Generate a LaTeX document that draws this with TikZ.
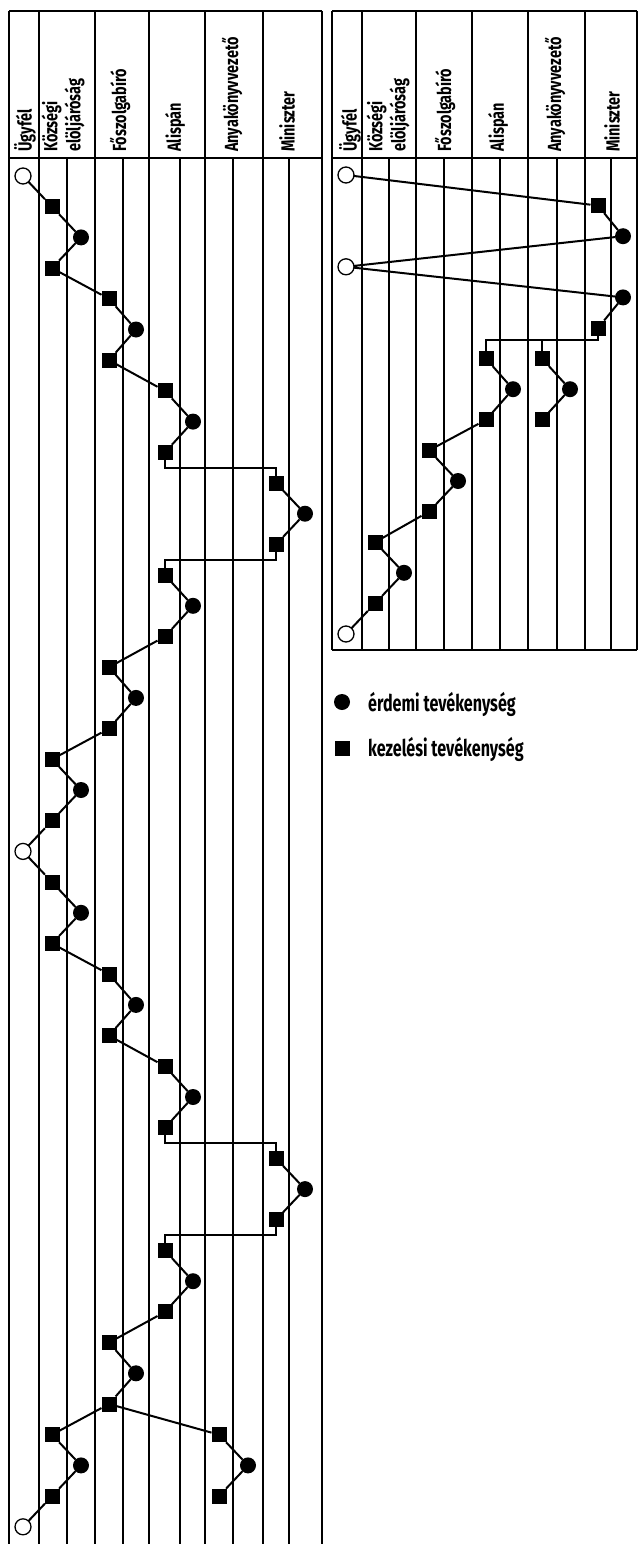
\documentclass[tikz,border=0pt]{standalone}
\usepackage{fontspec}
\newfontfamily\hdrfont[FakeStretch=0.76]{Fira Sans}
\newfontfamily\lgdfont[FakeStretch=0.7]{Fira Sans}
\usetikzlibrary{calc}
\newcommand\lmk[4]{\node[#1] (#2) at (#3,{176+30.7*(#4-1)}) {};}
\newcommand\rmk[4]{\node[#1] (#2) at (#3,{175+30.6*(#4-1)}) {};}
\tikzset{
  sq/.style={rectangle, fill=black, minimum size=15pt, inner sep=0pt, outer sep=0pt},
  dot/.style={circle, fill=black, minimum size=16pt, inner sep=0pt, outer sep=0pt},
  odot/.style={circle, draw=black, line width=1.3pt, fill=white, minimum size=16pt, inner sep=0pt, outer sep=0pt},
  con/.style={line width=2pt},
  mainln/.style={line width=2pt},
  subln/.style={line width=1.6pt},
  hdr/.style={rotate=90, anchor=west, inner sep=0pt, align=left,
    font=\hdrfont\bfseries\fontsize{19}{23}\selectfont},
  lgd/.style={anchor=west, inner sep=0pt, font=\lgdfont\bfseries\fontsize{23}{26}\selectfont},
}
\begin{document}
\begin{tikzpicture}[x=1pt,y=-1pt]
\useasboundingbox (0,0) rectangle (638,1544);
% ---------- left table grid
\draw[mainln] (9,11) -- (322,11);
\draw[mainln] (9,158) -- (322,158);
\foreach \xx in {9,39,95,149,205,263,322} \draw[mainln] (\xx,11) -- (\xx,1546);
\foreach \xx in {67,123,180,233,289} \draw[subln] (\xx,158) -- (\xx,1546);
% ---------- right table grid
\draw[mainln] (332,11) -- (637,11);
\draw[mainln] (332,158) -- (637,158);
\draw[mainln] (332,650) -- (637,650);
\foreach \xx in {332,362,416,472,528,585,637} \draw[mainln] (\xx,11) -- (\xx,650);
\foreach \xx in {389,444,500,557,611} \draw[subln] (\xx,158) -- (\xx,650);
% ---------- headers
\node[hdr] (hLU) at (25,152) {Ügyfél};
\node[hdr] (hLK) at (63,152) {Községi\\elöljáróság};
\node[hdr] (hLF) at (120,152) {Főszolgabíró};
\node[hdr] (hLA) at (175,152) {Alispán};
\node[hdr] (hLY) at (232,152) {Anyakönyvvezető};
\node[hdr] (hLM) at (287,152) {Miniszter};
\node[hdr] (hRU) at (350,152) {Ügyfél};
\node[hdr] (hRK) at (388,152) {Községi\\elöljáróság};
\node[hdr] (hRF) at (445,152) {Főszolgabíró};
\node[hdr] (hRA) at (498,152) {Alispán};
\node[hdr] (hRY) at (555,152) {Anyakönyvvezető};
\node[hdr] (hRM) at (612,152) {Miniszter};
% ---------- left markers
\lmk{odot}{L1}{23}{1}
\lmk{sq}{L2}{52}{2}
\lmk{dot}{L3}{81}{3}
\lmk{sq}{L4}{52}{4}
\lmk{sq}{L5}{109}{5}
\lmk{dot}{L6}{136}{6}
\lmk{sq}{L7}{109}{7}
\lmk{sq}{L8}{165}{8}
\lmk{dot}{L9}{193}{9}
\lmk{sq}{L10}{165}{10}
\lmk{sq}{L11}{276}{11}
\lmk{dot}{L12}{305}{12}
\lmk{sq}{L13}{276}{13}
\lmk{sq}{L14}{165}{14}
\lmk{dot}{L15}{193}{15}
\lmk{sq}{L16}{165}{16}
\lmk{sq}{L17}{109}{17}
\lmk{dot}{L18}{136}{18}
\lmk{sq}{L19}{109}{19}
\lmk{sq}{L20}{52}{20}
\lmk{dot}{L21}{81}{21}
\lmk{sq}{L22}{52}{22}
\lmk{odot}{L23}{23}{23}
\lmk{sq}{L24}{52}{24}
\lmk{dot}{L25}{81}{25}
\lmk{sq}{L26}{52}{26}
\lmk{sq}{L27}{109}{27}
\lmk{dot}{L28}{136}{28}
\lmk{sq}{L29}{109}{29}
\lmk{sq}{L30}{165}{30}
\lmk{dot}{L31}{193}{31}
\lmk{sq}{L32}{165}{32}
\lmk{sq}{L33}{276}{33}
\lmk{dot}{L34}{305}{34}
\lmk{sq}{L35}{276}{35}
\lmk{sq}{L36}{165}{36}
\lmk{dot}{L37}{193}{37}
\lmk{sq}{L38}{165}{38}
\lmk{sq}{L39}{109}{39}
\lmk{dot}{L40}{136}{40}
\lmk{sq}{L41}{109}{41}
\lmk{sq}{L42}{52}{42}
\lmk{dot}{L43}{81}{43}
\lmk{sq}{L44}{52}{44}
\lmk{odot}{L45}{23}{45}
\lmk{sq}{L42b}{219}{42}
\lmk{dot}{L43b}{248}{43}
\lmk{sq}{L44b}{219}{44}
% ---------- left connectors
\draw[con] (L1)--(L2)--(L3)--(L4)--(L5)--(L6)--(L7)--(L8)--(L9)--(L10);
\draw[con] (L10) |- ($(L10)!0.5!(L11)$) -| (L11);
\draw[con] (L11)--(L12)--(L13);
\draw[con] (L13) |- ($(L13)!0.5!(L14)$) -| (L14);
\draw[con] (L14)--(L15)--(L16)--(L17)--(L18)--(L19)--(L20)--(L21)--(L22)--(L23)--(L24)--(L25)--(L26)--(L27)--(L28)--(L29)--(L30)--(L31)--(L32);
\draw[con] (L32) |- ($(L32)!0.5!(L33)$) -| (L33);
\draw[con] (L33)--(L34)--(L35);
\draw[con] (L35) |- ($(L35)!0.5!(L36)$) -| (L36);
\draw[con] (L36)--(L37)--(L38)--(L39)--(L40)--(L41)--(L42)--(L43)--(L44)--(L45);
\draw[con] (L41)--(L42b)--(L43b)--(L44b);
% ---------- right markers
\rmk{odot}{R1}{346}{1}
\rmk{sq}{R2}{598}{2}
\rmk{dot}{R3}{623}{3}
\rmk{odot}{R4}{346}{4}
\rmk{dot}{R5}{623}{5}
\rmk{sq}{R6}{598}{6}
\rmk{sq}{R7}{486}{7}
\rmk{sq}{R7b}{542}{7}
\rmk{dot}{R8}{513}{8}
\rmk{dot}{R8b}{570}{8}
\rmk{sq}{R9}{486}{9}
\rmk{sq}{R9b}{542}{9}
\rmk{sq}{R10}{429}{10}
\rmk{dot}{R11}{458}{11}
\rmk{sq}{R12}{429}{12}
\rmk{sq}{R13}{375}{13}
\rmk{dot}{R14}{404}{14}
\rmk{sq}{R15}{375}{15}
\rmk{odot}{R16}{346}{16}
% ---------- right connectors
\draw[con] (R1)--(R2)--(R3)--(R4)--(R5)--(R6);
\coordinate (rb) at ($(R6)!0.4!(R7)$);
\draw[con] (R6) |- (rb) -| (R7);
\draw[con] (R7b |- rb) -- (R7b);
\draw[con] (R7)--(R8)--(R9)--(R10)--(R11)--(R12)--(R13)--(R14)--(R15)--(R16);
\draw[con] (R7b)--(R8b)--(R9b);
% ---------- legend
\node[dot] (lgc) at (342,702) {};
\node[sq] (lgs) at (342,748) {};
\node[lgd] (lgct) at (368,704) {érdemi tevékenység};
\node[lgd] (lgst) at (368,749) {kezelési tevékenység};
\end{tikzpicture}
\end{document}
